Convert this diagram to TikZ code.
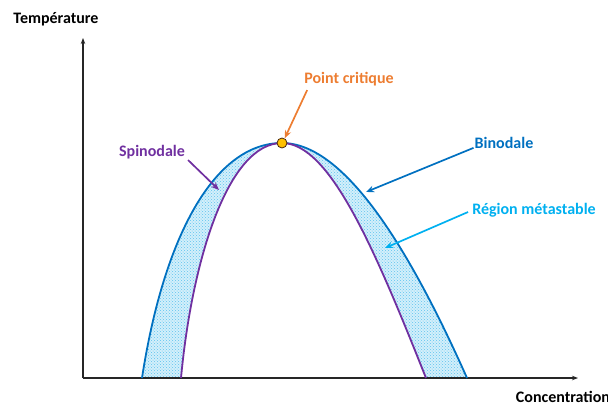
\documentclass[tikz,border=0pt]{standalone}
\usepackage{fontspec}
\setmainfont{Carlito}
\usepackage{xcolor}
\usetikzlibrary{arrows.meta,patterns}

\definecolor{binoblue}{HTML}{0070C0}
\definecolor{spinoviolet}{HTML}{7030A0}
\definecolor{critorange}{HTML}{ED7D31}
\definecolor{metablue}{HTML}{00B0F0}
\definecolor{crityellow}{HTML}{FFC000}
\definecolor{metafill}{HTML}{D3EFFB}
\definecolor{metadot}{HTML}{5EC4EE}

\begin{document}
\begin{tikzpicture}[x=1pt, y=-1pt, >={Stealth[length=8pt,width=6.5pt]},
		lbl/.style={font=\fontsize{16}{19}\selectfont\bfseries, inner sep=1pt},
		axis/.style={line width=1.3pt, black!85, -{Stealth[length=6pt,width=4.5pt]}},
		note/.style={line width=1.7pt, ->},
		curve/.style={line width=1.8pt}]
	\useasboundingbox (0,0) rectangle (608,405);

	% points of the two curves
	\coordinate (bl) at (142,378);
	\coordinate (br) at (467,378);
	\coordinate (sl) at (181,378);
	\coordinate (sr) at (426,378);
	\coordinate (top) at (282,143);

	% metastable band
	\path[preaction={fill=metafill}, pattern=crosshatch dots, pattern color=metadot]
		(bl) .. controls (164,235) and (215,143) .. (top)
		.. controls (345,143) and (410,250) .. (br) -- (sr)
		.. controls (375,250) and (330,143) .. (top)
		.. controls (228,143) and (192,260) .. (sl) -- cycle;

	% axes
	\coordinate (o) at (83,378);
	\coordinate (ytop) at (83,38);
	\coordinate (xend) at (578,378);
	\draw[axis] (o) -- (ytop);
	\draw[axis] (o) -- (xend);

	% binodale and spinodale
	\draw[curve, binoblue] (bl) .. controls (164,235) and (215,143) .. (top)
		.. controls (345,143) and (410,250) .. (br);
	\draw[curve, spinoviolet] (sl) .. controls (192,260) and (228,143) .. (top)
		.. controls (330,143) and (375,250) .. (sr);

	\node[circle, draw=black!70!critorange, fill=crityellow, line width=0.8pt,
		minimum size=10pt, inner sep=0pt] (cp) at (top) {};

	% labels
	\node[lbl] (temp) at (56,19) {Température};
	\node[lbl] (conc) at (563,397) {Concentration};
	\node[lbl, critorange] (pc) at (349,79) {Point critique};
	\node[lbl, spinoviolet] (spino) at (152,152) {Spinodale};
	\node[lbl, binoblue] (bino) at (504,143) {Binodale};
	\node[lbl, metablue] (meta) at (534,210) {Région métastable};

	% pointers
	\coordinate (spinotip) at (219,190);
	\coordinate (binotip) at (366,192);
	\coordinate (metatip) at (385,248);
	\draw[note, critorange] ([xshift=4pt,yshift=-3pt]pc.south west) -- (cp.60);
	\draw[note, spinoviolet] ([xshift=2pt]spino.south east) -- (spinotip);
	\draw[note, binoblue] ([yshift=2pt]bino.south west) -- (binotip);
	\draw[note, metablue] ([xshift=-3pt,yshift=-2pt]meta.west) -- (metatip);
\end{tikzpicture}
\end{document}
